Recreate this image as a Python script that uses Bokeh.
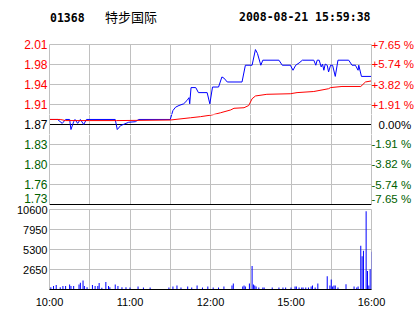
from bokeh.plotting import figure
from bokeh.models import FixedTicker, Range1d, LinearAxis
from bokeh.layouts import column
from bokeh.core.properties import value
from bokeh.embed import file_html
from bokeh.resources import INLINE

# ---------------- data ----------------
CODE = "01368"
NAME = "特步国际"
STAMP = "2008-08-21 15:59:38"
PREV_CLOSE = 1.87
MAX_PCT = 7.65

# trading minutes since 10:00 (12:30 joined to 14:30)
price_minutes = [0, 6, 9.5, 12, 15, 16, 18, 19, 21, 23, 25.5, 27.5, 49, 50.5, 53, 59, 64, 66.5,
                 90, 92, 94, 96.5, 100, 102.5, 104, 104.5, 105.5, 109, 111, 117.5, 119.5, 121.5,
                 126, 128.5, 130, 132.5, 143.5, 146, 151, 153.5, 155, 157.5, 159, 171, 173.5,
                 179.5, 181.5, 183.5, 186, 188.5, 197, 198.5, 199.5, 201, 202.5, 203.5, 204.5,
                 205.5, 207, 208, 209.5, 211, 213, 215, 223, 225.5, 228, 230, 230.5, 232.5, 240]
price_values = [1.879, 1.879, 1.872, 1.879, 1.879, 1.861, 1.875, 1.879, 1.872, 1.879, 1.870, 1.879,
                1.879, 1.861, 1.868, 1.874, 1.875, 1.879,
                1.879, 1.895, 1.901, 1.904, 1.907, 1.913, 1.918, 1.907, 1.936, 1.936, 1.927,
                1.927, 1.907, 1.937, 1.937, 1.955, 1.953, 1.946, 1.946, 1.976, 1.976, 2.004,
                1.997, 1.976, 1.985, 1.985, 1.976, 1.976, 1.967, 1.976, 1.980, 1.985, 1.985,
                1.976, 1.985, 1.985, 1.973, 1.978, 1.967, 1.978, 1.976, 1.964, 1.976, 1.976,
                1.956, 1.985, 1.985, 1.976, 1.976, 1.967, 1.976, 1.956, 1.956]

avg_minutes = [0, 8, 12, 30, 50, 90, 105, 112.5, 121, 127.5, 135, 137.5, 145, 148.5, 151, 153.5,
               162, 179.5, 184.5, 197, 208, 209.5, 218, 232, 235.5, 240]
avg_values = [1.879, 1.879, 1.877, 1.877, 1.877, 1.878, 1.882, 1.884, 1.887, 1.891, 1.896, 1.899,
              1.900, 1.904, 1.916, 1.921, 1.924, 1.925, 1.927, 1.929, 1.934, 1.936, 1.938, 1.938,
              1.946, 1.948]

vol_minutes = [1, 3, 5, 8, 10, 12, 15, 16, 18, 22, 23, 25, 26, 28, 32, 34, 36, 37, 39, 42, 44, 45,
               49, 51, 54, 57, 60, 66, 70, 75, 89, 92, 95, 98, 103, 106, 110, 114, 118, 122, 126,
               130, 136, 137, 144, 145, 146, 149, 151, 152, 153, 154, 156, 159, 160, 166, 171,
               174, 176, 180, 183, 184, 186, 188, 189, 191, 193, 195, 196, 198, 200, 207, 209,
               210, 211, 212, 213, 215, 221, 227, 229, 230, 232, 233, 234, 236, 237, 238, 239, 240]
vol_values = [300, 450, 580, 300, 450, 450, 670, 450, 450, 670, 900, 1200, 450, 300, 580, 450,
              450, 850, 230, 980, 450, 300, 670, 450, 300, 300, 270, 400, 270, 270, 270, 400, 540,
              270, 400, 270, 540, 270, 400, 270, 270, 400, 540, 800, 400, 540, 400, 800, 3100,
              670, 540, 400, 270, 270, 270, 270, 270, 270, 270, 270, 400, 400, 270, 270, 270, 270,
              270, 400, 540, 270, 800, 1750, 540, 1340, 400, 540, 540, 270, 700, 400, 270, 400,
              5810, 4390, 5140, 10370, 2460, 540, 2680, 5010]

pct_ticks = [7.65, 5.74, 3.82, 1.91, 0.0, -1.91, -3.82, -5.74, -7.65]
price_tick_labels = ["2.01", "1.98", "1.94", "1.91", "1.87", "1.83", "1.80", "1.76", "1.73"]
pct_tick_labels = ["+7.65 %", "+5.74 %", "+3.82 %", "+1.91 %", "0.00%",
                   "-1.91 %", "-3.82 %", "-5.74 %", "-7.65 %"]
vol_ticks = [2650, 5300, 7950, 10600]
time_ticks = [0, 60, 120, 180, 240]
time_labels = ["10:00", "11:00", "12:00", "15:00", "16:00"]
half_hour_grid = [30, 60, 90, 120, 150, 180, 210]

# ---------------- style ----------------
RED = "#ff0000"
GREEN = "#006000"
BLUE = "#0000ff"
GRID = "#c0c0c0"
FONT = "Liberation Sans"
PANEL_H = 160           # price panel height in px
FRAME_W = 322
LEFT_B, RIGHT_B = 49, 43

lo = PREV_CLOSE * (1 - MAX_PCT / 100)
hi = PREV_CLOSE * (1 + MAX_PCT / 100)
u = (hi - lo) / PANEL_H  # price per pixel
tick_prices = [round(PREV_CLOSE * (1 + t / 100), 6) for t in pct_ticks]

XR = Range1d(0, 240)


def style_axis(ax, color, size, standoff, line_color):
    ax.axis_line_color = line_color
    ax.major_tick_line_color = None
    ax.minor_tick_line_color = None
    ax.major_tick_out = 0
    ax.major_tick_in = 0
    ax.minor_tick_out = 0
    ax.minor_tick_in = 0
    ax.major_label_standoff = standoff
    ax.major_label_text_color = color
    ax.major_label_text_font = FONT
    ax.major_label_text_font_size = size


def band(y0, y1, frame_h, b_top, b_bottom, rows, color, grid_ticks, grid_color,
         right_standoff=0, label_shift=None):
    p = figure(frame_width=FRAME_W, frame_height=frame_h, x_range=XR, y_range=Range1d(y0, y1),
               output_backend="svg", toolbar_location=None,
               x_axis_location=None, y_axis_location=None,
               min_border_left=LEFT_B, min_border_right=RIGHT_B, min_border_top=b_top,
               min_border_bottom=b_bottom)
    p.outline_line_color = None
    p.background_fill_color = "white"
    p.border_fill_color = "white"
    p.xgrid.ticker = FixedTicker(ticks=half_hour_grid)
    p.xgrid.grid_line_color = GRID
    p.ygrid.ticker = FixedTicker(ticks=grid_ticks)
    p.ygrid.grid_line_color = grid_color

    pos = [tick_prices[i] for i in rows]
    if label_shift:
        pos = [v + label_shift.get(i, 0) * u for v, i in zip(pos, rows)]
    left = LinearAxis(ticker=FixedTicker(ticks=pos),
                      major_label_overrides={v: price_tick_labels[i] for v, i in zip(pos, rows)})
    style_axis(left, color, "12px", 2, GRID)
    p.add_layout(left, "left")
    right = LinearAxis(ticker=FixedTicker(ticks=pos),
                       major_label_overrides={v: pct_tick_labels[i] for v, i in zip(pos, rows)})
    style_axis(right, color, "11.5px", right_standoff, GRID)
    p.add_layout(right, "right")

    p.line(price_minutes, price_values, line_color=BLUE, line_width=1)
    p.line(avg_minutes, avg_values, line_color=RED, line_width=1)
    return p


# header (frame aligned with the panels; x in page pixels)
hdr = figure(frame_width=FRAME_W, frame_height=36, x_range=Range1d(LEFT_B, LEFT_B + FRAME_W),
             y_range=Range1d(36, 0), output_backend="svg", toolbar_location=None,
             min_border_left=LEFT_B, min_border_right=RIGHT_B, min_border_top=0,
             min_border_bottom=0, x_axis_location=None, y_axis_location=None)
hdr.outline_line_color = None
hdr.xgrid.visible = False
hdr.ygrid.visible = False
hdr.text(x=[49.5], y=[16.5], text=[CODE], text_font=value("DejaVu Sans Mono"),
         text_font_style="bold", text_font_size="11.5px", text_baseline="middle",
         text_align="left", text_color="black")
hdr.text(x=[104.5], y=[15.5], text=[NAME], text_font=value("Noto Sans CJK SC"),
         text_font_size="13px", text_baseline="middle", text_align="left", text_color="black")
hdr.text(x=[370], y=[16.5], text=[STAMP], text_font=value("DejaVu Sans Mono"),
         text_font_style="bold", text_font_size="11.5px", text_baseline="middle",
         text_align="right", text_color="black")

# price panel split into three bands (red above, black at prev close, green below)
A = band(hi - 70 * u, hi, 70, 8, 0, [0, 1, 2, 3], RED, tick_prices[1:4], GRID)
top_ax = LinearAxis(ticker=FixedTicker(ticks=[]))
style_axis(top_ax, "black", "12px", 0, GRID)
A.add_layout(top_ax, "above")

B = band(hi - 90 * u, hi - 70 * u, 20, 0, 0, [4], "black", [PREV_CLOSE], "black",
         right_standoff=7)

C = band(lo, hi - 90 * u, 70, 0, 1, [5, 6, 7, 8], GREEN, tick_prices[5:8], GRID,
         label_shift={8: 6})
bot_ax = LinearAxis(ticker=FixedTicker(ticks=[]))
style_axis(bot_ax, "black", "12px", 0, "black")
C.add_layout(bot_ax, "below")

# ---------------- volume ----------------
V = figure(frame_width=FRAME_W, frame_height=80, x_range=XR, y_range=Range1d(0, vol_ticks[-1]),
           output_backend="svg", toolbar_location=None,
           min_border_left=LEFT_B, min_border_right=RIGHT_B, min_border_top=4,
           min_border_bottom=25)
V.outline_line_color = GRID
V.background_fill_color = "white"
V.border_fill_color = "white"
V.xgrid.ticker = FixedTicker(ticks=half_hour_grid)
V.ygrid.ticker = FixedTicker(ticks=vol_ticks[:-1])
V.xgrid.grid_line_color = GRID
V.ygrid.grid_line_color = GRID

V.vbar(x=vol_minutes, top=vol_values, width=0.75, fill_color=BLUE, line_color=None)

xa = V.xaxis[0]
xa.ticker = FixedTicker(ticks=time_ticks)
xa.major_label_overrides = {t: l for t, l in zip(time_ticks, time_labels)}
style_axis(xa, "black", "11px", 6, "black")

ya = V.yaxis[0]
ya.ticker = FixedTicker(ticks=vol_ticks)
style_axis(ya, "black", "11px", 2, None)

layout = column(hdr, A, B, C, V, spacing=0)
open("out.html", "w").write(file_html(layout, INLINE))
